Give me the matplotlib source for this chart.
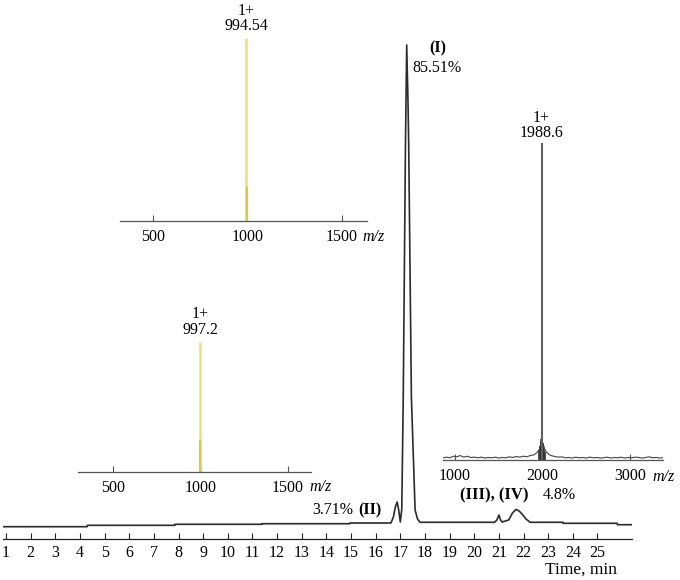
import matplotlib.pyplot as plt

plt.rcParams['font.family'] = ['Liberation Serif', 'DejaVu Serif']

# Chromatogram (time in min, signal in arbitrary units)
chrom_time = [0.89, 4.29, 4.30, 7.85, 7.86, 11.38, 11.39, 14.95, 14.96, 16.62,
              16.72, 16.80, 16.87, 16.93, 17.00, 17.06, 17.12, 17.21, 17.26, 17.31,
              17.34, 17.45, 17.60, 17.70, 17.80, 20.82, 20.92, 21.00, 21.07, 21.13,
              21.40, 21.55, 21.70, 21.82, 21.94, 22.10, 22.27, 23.60, 23.61, 25.80,
              25.81, 26.39]
chrom_signal = [12.3, 12.3, 13.7, 13.7, 14.7, 14.7, 15.3, 15.3, 16.0, 16.0,
                22, 32, 37, 30, 17, 30, 142, 396, 494, 440,
                396, 142, 29, 20, 16.7, 16.7, 19, 24, 19, 17,
                19, 26, 29.7, 28, 25, 20, 16.7, 16.7, 15.7, 15.7,
                14.3, 14.3]
time_ticks = list(range(1, 26))

# Mass spectrum of peak (I)
ms_i_mz = [994.54, 997.0]
ms_i_int = [100, 18.6]

# Mass spectrum of peak (II)
ms_ii_mz = [997.2, 999.5]
ms_ii_int = [100, 24.4]

# Mass spectrum of peaks (III), (IV)
ms_iii_mz = 1988.6
ms_iii_int = 100
cluster_mz = [1962, 1970, 1978, 1984, 1994, 2000, 2008, 2016, 2030]
cluster_int = [3.0, 4.5, 5.8, 6.6, 6.0, 5.5, 4.2, 3.4, 2.5]
noise_mz = [860, 900, 940, 980, 1020, 1060, 1100, 1140, 1180, 1220,
            1260, 1300, 1340, 1380, 1420, 1460, 1500, 1540, 1580, 1620,
            1660, 1700, 1740, 1780, 1820, 1860, 1900, 1930, 1950, 1970,
            1990, 2010, 2030, 2050, 2070, 2100, 2140, 2180, 2220, 2260,
            2300, 2340, 2380, 2420, 2460, 2500, 2540, 2580, 2620, 2660,
            2700, 2740, 2780, 2820, 2860, 2900, 2940, 2980, 3020, 3060,
            3100, 3140, 3180, 3220, 3260, 3300, 3340, 3380]
noise_int = [0.6, 0.9, 0.7, 1.2, 1.0, 1.4, 0.9, 1.2, 0.8, 0.9,
             0.7, 0.9, 0.6, 0.8, 0.7, 0.9, 0.6, 0.8, 0.7, 1.0,
             0.8, 1.1, 0.9, 1.2, 1.0, 1.4, 1.6, 2.2, 2.8, 3.6,
             6.2, 4.8, 3.1, 2.4, 1.8, 1.4, 1.1, 0.9, 1.0, 0.7,
             0.8, 0.6, 0.9, 0.7, 0.8, 0.6, 0.9, 0.7, 0.8, 0.6,
             0.7, 0.9, 0.6, 0.8, 0.7, 0.9, 0.6, 0.8, 0.7, 0.9,
             0.8, 0.6, 0.8, 1.0, 0.7, 0.8, 0.6, 0.7]

W, H = 680, 580
FS = 11.5
fig = plt.figure(figsize=(6.8, 5.8), dpi=100)


def box(left, right, axis_y, height):
    # pixel placement -> figure fraction
    return [left / W, 1 - axis_y / H, (right - left) / W, height / H]


def fig_text(x, y, s, size=FS, **kw):
    fig.text(x / W, 1 - y / H, s, fontsize=size, **kw)


def bare(a, color):
    for s in ['left', 'top', 'right']:
        a.spines[s].set_visible(False)
    a.spines['bottom'].set_color(color)
    a.spines['bottom'].set_linewidth(0.9)
    a.set_yticks([])
    a.patch.set_visible(False)


# main chromatogram
ax = fig.add_axes(box(3.3, 631.7, 539, 500))
ax.plot(chrom_time, chrom_signal, color='#2b2b2b', lw=1.2)
ax.set_xlim(0.89, 26.39)
ax.set_ylim(0, 500)
bare(ax, '#222222')
ax.set_xticks(time_ticks)
ax.tick_params(axis='x', direction='in', length=4, width=0.8, pad=4,
               labelsize=FS, color='#222222')

ax.text(18.53, 491, '(I)', ha='center', va='center', fontsize=FS, fontweight='bold')
ax.text(18.49, 471, '85.51%', ha='center', va='center', fontsize=FS)
ax.text(15.08, 29, '3.71%', ha='right', va='center', fontsize=FS)
ax.text(15.29, 29, '(II)', ha='left', va='center', fontsize=FS, fontweight='bold')
ax.text(19.43, 44, '(III), (IV)', ha='left', va='center', fontsize=12, fontweight='bold')
ax.text(22.79, 44, '4.8%', ha='left', va='center', fontsize=FS)
fig_text(581, 570, 'Time, min', size=12.5, ha='center', va='center')


def inset(left, right, axis_y, height, xlim, ticks):
    a = fig.add_axes(box(left, right, axis_y, height))
    a.set_xlim(xlim)
    a.set_ylim(0, 100)
    bare(a, '#555555')
    a.set_xticks(ticks)
    a.tick_params(axis='x', direction='in', length=4, width=0.8, pad=6,
                  labelsize=FS, color='#555555')
    return a


def peak_label(a, mz, top, dy):
    a.annotate(f'1+\n{mz}', xy=(mz, top), xytext=(0, dy), textcoords='offset points',
               ha='center', va='bottom', fontsize=FS, linespacing=0.95)


# MS of (I)
a1 = inset(120, 366.7, 220.7, 182.4, (323, 1633), [500, 1000, 1500])
a1.vlines(ms_i_mz[0], 0, ms_i_int[0], color='#ebe47c', lw=2.0)
a1.vlines(ms_i_mz[1], 0, ms_i_int[1], color='#d8ca48', lw=1.6)
peak_label(a1, ms_i_mz[0], ms_i_int[0], 3)
fig_text(362, 236.7, 'm/z', style='italic', ha='left', va='center')

# MS of (II)
a2 = inset(78.3, 310.7, 472, 130.3, (299, 1632), [500, 1000, 1500])
a2.vlines(ms_ii_mz[0], 0, ms_ii_int[0], color='#ebe47c', lw=2.0)
a2.vlines(ms_ii_mz[1], 0, ms_ii_int[1], color='#d8ca48', lw=1.6)
peak_label(a2, ms_ii_mz[0], ms_ii_int[0], 3)
fig_text(309, 487, 'm/z', style='italic', ha='left', va='center')

# MS of (III), (IV)
a3 = inset(442.7, 663.3, 460, 317.3, (859, 3381), [1000, 2000, 3000])
a3.plot(noise_mz, noise_int, color='#444444', lw=0.8)
a3.vlines(cluster_mz, 0, cluster_int, color='#333333', lw=1.2)
a3.vlines(ms_iii_mz, 0, ms_iii_int, color='#606060', lw=1.5)
peak_label(a3, ms_iii_mz, ms_iii_int, 1)
fig_text(652.7, 477.3, 'm/z', style='italic', ha='left', va='center')

fig.savefig('out.png', dpi=100)
